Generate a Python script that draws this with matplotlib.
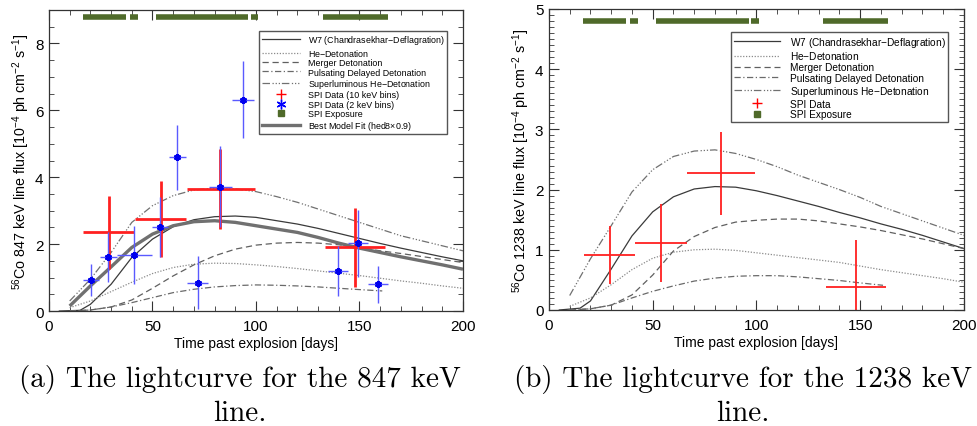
import matplotlib
matplotlib.use("Agg")
import matplotlib.pyplot as plt
from matplotlib.lines import Line2D
from matplotlib.ticker import MultipleLocator

plt.rcParams['font.family'] = ['Liberation Sans', 'DejaVu Sans']
plt.rcParams['mathtext.fontset'] = 'custom'
plt.rcParams['mathtext.rm'] = 'Liberation Sans'
plt.rcParams['mathtext.it'] = 'Liberation Sans:italic'

# ---- model lightcurves (days) ----
days = [10, 20, 30, 40, 50, 60, 70, 80, 90, 100, 110, 120, 130, 140, 150, 160, 170, 180, 190, 200]
days_w7 = [5, 15] + days[1:]
days_pdd = [10, 20, 30, 40, 50, 60, 70, 80, 90, 100, 110, 120, 130, 140, 150, 161]

# 847 keV
w7_847 = [0.0, 0.02, 0.2, 0.8, 1.6, 2.15, 2.52, 2.73, 2.82, 2.84, 2.8, 2.7, 2.6, 2.47, 2.32, 2.17, 2.02, 1.88, 1.75, 1.62, 1.5]
hedet_847 = [0.1, 0.3, 0.58, 0.86, 1.12, 1.3, 1.4, 1.43, 1.42, 1.38, 1.33, 1.27, 1.2, 1.13, 1.06, 0.98, 0.9, 0.83, 0.75, 0.68]
merger_847 = [0.0, 0.03, 0.12, 0.33, 0.68, 1.05, 1.38, 1.65, 1.85, 1.97, 2.03, 2.05, 2.03, 1.98, 1.9, 1.8, 1.72, 1.63, 1.54, 1.45]
pdd_847 = [0.0, 0.03, 0.12, 0.25, 0.4, 0.55, 0.65, 0.72, 0.76, 0.78, 0.77, 0.75, 0.72, 0.68, 0.64, 0.6]
slum_847 = [0.3, 0.95, 1.75, 2.65, 3.15, 3.45, 3.62, 3.67, 3.65, 3.57, 3.42, 3.25, 3.05, 2.85, 2.65, 2.45, 2.25, 2.1, 1.95, 1.8]
best_847 = [0.15, 0.75, 1.32, 1.9, 2.3, 2.55, 2.67, 2.7, 2.65, 2.55, 2.45, 2.35, 2.2, 2.03, 1.88, 1.75, 1.62, 1.5, 1.38, 1.25]

# 1238 keV
w7_1238 = [0.0, 0.03, 0.15, 0.68, 1.23, 1.63, 1.88, 2.01, 2.05, 2.04, 1.98, 1.9, 1.81, 1.72, 1.62, 1.53, 1.43, 1.34, 1.24, 1.13, 1.02]
hedet_1238 = [0.06, 0.2, 0.42, 0.67, 0.86, 0.96, 1.0, 1.01, 0.99, 0.95, 0.91, 0.87, 0.83, 0.79, 0.73, 0.67, 0.62, 0.57, 0.52, 0.46]
merger_1238 = [0.0, 0.02, 0.08, 0.25, 0.58, 0.98, 1.22, 1.37, 1.46, 1.49, 1.51, 1.51, 1.48, 1.43, 1.38, 1.32, 1.25, 1.18, 1.1, 1.02]
pdd_1238 = [0.0, 0.02, 0.08, 0.2, 0.31, 0.4, 0.48, 0.53, 0.56, 0.57, 0.57, 0.55, 0.52, 0.49, 0.45, 0.41]
slum_1238 = [0.24, 0.85, 1.4, 1.96, 2.33, 2.55, 2.64, 2.66, 2.6, 2.5, 2.38, 2.24, 2.12, 2.0, 1.87, 1.72, 1.6, 1.48, 1.36, 1.24]

# ---- SPI data ----
# 847 keV, 10 keV bins
spi10_t = [29.0, 53.9, 82.5, 147.9]
spi10_lo = [16.4, 41.5, 66.5, 133.2]
spi10_hi = [41.2, 66.1, 99.4, 162.5]
spi10_f = [2.35, 2.75, 3.65, 1.9]
spi10_e = [1.1, 1.15, 1.2, 1.17]

# 847 keV, 2 keV bins
spi2_t = [20.3, 28.6, 41.2, 53.6, 61.9, 71.8, 82.5, 93.5, 139.7, 149.3, 159.0]
spi2_lo = [16.3, 24.6, 33.0, 49.9, 58.1, 66.5, 77.4, 88.2, 134.8, 144.5, 154.1]
spi2_hi = [24.3, 32.7, 49.6, 57.6, 66.1, 76.9, 88.2, 99.0, 144.5, 154.1, 163.8]
spi2_f = [0.93, 1.62, 1.68, 2.52, 4.6, 0.85, 3.72, 6.32, 1.2, 2.02, 0.8]
spi2_e = [0.47, 0.75, 0.87, 0.9, 0.97, 0.8, 1.2, 1.16, 0.74, 1.0, 0.55]

# 1238 keV
spi_t = [29.3, 54.2, 83.1, 147.9]
spi_lo = [16.9, 41.6, 66.7, 133.4]
spi_hi = [41.6, 66.6, 99.5, 162.4]
spi_f = [0.91, 1.11, 2.27, 0.38]
spi_e = [0.48, 0.65, 0.69, 0.78]

# SPI exposure periods
expo_start = [16.4, 39.3, 51.5, 97.6, 132.2]
expo_end = [37.1, 43.1, 96.3, 101.1, 163.6]

green = '#4f6a2a'
models = [
    ('W7 (Chandrasekhar$-$Deflagration)', '-', '#3a3a3a'),
    ('He$-$Detonation', (0, (1, 1.3)), '#8a8a8a'),
    ('Merger Detonation', (0, (5, 3)), '#606060'),
    ('Pulsating Delayed Detonation', (0, (5, 2, 1, 2)), '#6a6a6a'),
    ('Superluminous He$-$Detonation', (0, (6, 2, 1, 1.5, 1, 1.5, 1, 1.5)), '#707070'),
]

fig = plt.figure(figsize=(9.78, 4.27), dpi=100)
ax1 = fig.add_axes([0.0501, 0.2693, 0.4233, 0.7049])
ax2 = fig.add_axes([0.5613, 0.2717, 0.4243, 0.7049])

def style_axes(ax, ymax, ymajor, yminor, ylabel):
    ax.set_xlim(0, 200)
    ax.set_ylim(0, ymax)
    ax.xaxis.set_major_locator(MultipleLocator(50))
    ax.xaxis.set_minor_locator(MultipleLocator(10))
    ax.yaxis.set_major_locator(MultipleLocator(ymajor))
    ax.yaxis.set_minor_locator(MultipleLocator(yminor))
    ax.tick_params(which='both', direction='in', top=True, right=True, color='#333333')
    ax.tick_params(which='major', length=7, labelsize=11, pad=4)
    ax.tick_params(axis='x', which='major', pad=6)
    ax.tick_params(which='minor', length=3.5)
    for s in ax.spines.values():
        s.set_color('#333333')
        s.set_linewidth(0.9)
    ax.set_xlabel('Time past explosion [days]', fontsize=10, labelpad=2)
    ax.set_ylabel(ylabel, fontsize=10.3, labelpad=2)

def draw_models(ax, curves):
    for (label, ls, col), (t, v) in zip(models, curves):
        ax.plot(t, v, linestyle=ls, color=col, lw=0.9)

def model_handles():
    return [Line2D([], [], linestyle=ls, color=col, lw=0.9, label=lab) for lab, ls, col in models]

# ---- left panel: 847 keV ----
ax = ax1
ax.hlines([8.78] * len(expo_start), expo_start, expo_end, colors=green, lw=4)
draw_models(ax, [(days_w7, w7_847), (days, hedet_847), (days, merger_847),
                 (days_pdd, pdd_847), (days, slum_847)])
ax.plot(days, best_847, color='#707070', lw=2.4, solid_capstyle='butt')
xe = [[t - lo for t, lo in zip(spi10_t, spi10_lo)], [hi - t for t, hi in zip(spi10_t, spi10_hi)]]
ax.errorbar(spi10_t, spi10_f, xerr=xe, yerr=spi10_e, fmt='none', ecolor='#ff2020', elinewidth=2.0, capsize=0)
xe = [[t - lo for t, lo in zip(spi2_t, spi2_lo)], [hi - t for t, hi in zip(spi2_t, spi2_hi)]]
ax.errorbar(spi2_t, spi2_f, xerr=xe, yerr=spi2_e, fmt='none', ecolor='#5a5aff', elinewidth=1.0, capsize=0)
ax.plot(spi2_t, spi2_f, linestyle='none', marker=(6, 2, 0), ms=5, mew=1.6, color='#0000ee')
style_axes(ax, 9, 2, 0.5, r'$^{56}$Co 847 keV line flux [10$^{-4}$ ph cm$^{-2}$ s$^{-1}$]')

h = model_handles()
h += [Line2D([], [], linestyle='none', marker='+', color='red', ms=7, mew=1, label='SPI Data (10 keV bins)'),
      Line2D([], [], linestyle='none', marker=(6, 2, 0), color='blue', ms=7, mew=1, label='SPI Data (2 keV bins)'),
      Line2D([], [], linestyle='none', marker='s', color=green, ms=5, label='SPI Exposure'),
      Line2D([], [], color='#707070', lw=2.4, label=r'Best Model Fit (hed8$\times$0.9)')]
leg = ax.legend(handles=h, loc='upper right', bbox_to_anchor=(0.972, 0.945), fontsize=6.4,
                handlelength=4.3, labelspacing=0.05, borderpad=0.25, handletextpad=0.9,
                fancybox=False, framealpha=1, edgecolor='#555555')
leg.get_frame().set_linewidth(1.0)

# ---- right panel: 1238 keV ----
ax = ax2
ax.hlines([4.8] * len(expo_start), expo_start, expo_end, colors=green, lw=4)
draw_models(ax, [(days_w7, w7_1238), (days, hedet_1238), (days, merger_1238),
                 (days_pdd, pdd_1238), (days, slum_1238)])
xe = [[t - lo for t, lo in zip(spi_t, spi_lo)], [hi - t for t, hi in zip(spi_t, spi_hi)]]
ax.errorbar(spi_t, spi_f, xerr=xe, yerr=spi_e, fmt='none', ecolor='#ff2020', elinewidth=1.3, capsize=0)
style_axes(ax, 5, 1, 0.1, r'$^{56}$Co 1238 keV line flux [10$^{-4}$ ph cm$^{-2}$ s$^{-1}$]')

h = model_handles()
h += [Line2D([], [], linestyle='none', marker='+', color='red', ms=7, mew=1, label='SPI Data'),
      Line2D([], [], linestyle='none', marker='s', color=green, ms=5, label='SPI Exposure')]
leg = ax.legend(handles=h, loc='upper right', bbox_to_anchor=(0.975, 0.942), fontsize=7.3,
                handlelength=4.6, labelspacing=0.08, borderpad=0.3, handletextpad=0.9,
                fancybox=False, framealpha=1, edgecolor='#555555')
leg.get_frame().set_linewidth(1.0)

# ---- captions ----
cap = dict(fontsize=21, family='cmr10', ha='center', va='center')
fig.text(240 / 978, 1 - 380 / 427, '(a) The lightcurve for the 847 keV', **cap)
fig.text(240 / 978, 1 - 414 / 427, 'line.', **cap)
fig.text(743 / 978, 1 - 380 / 427, '(b) The lightcurve for the 1238 keV', **cap)
fig.text(743 / 978, 1 - 414 / 427, 'line.', **cap)

fig.savefig('out.png', dpi=100)
